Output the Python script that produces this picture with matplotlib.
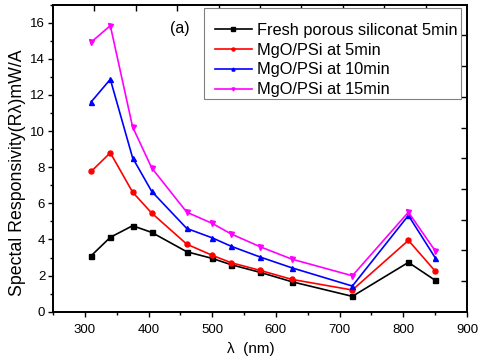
import matplotlib
matplotlib.use("Agg")
import matplotlib.pyplot as plt
from matplotlib.ticker import MultipleLocator, NullFormatter
from matplotlib.lines import Line2D
from matplotlib.patches import Rectangle
import numpy as np

plt.rcParams['font.family'] = ['Liberation Sans', 'DejaVu Sans']

wavelength = [310, 340, 375, 405, 460, 500, 530, 575, 625, 720, 808, 850]
fresh_5 = [3.10, 4.12, 4.76, 4.39, 3.32, 2.95, 2.60, 2.18, 1.66, 0.85, 2.73, 1.74]
mgo_5 = [7.77, 8.80, 6.62, 5.46, 3.74, 3.12, 2.71, 2.29, 1.79, 1.20, 3.95, 2.25]
mgo_10 = [11.62, 12.87, 8.52, 6.66, 4.61, 4.09, 3.62, 3.03, 2.43, 1.42, 5.33, 2.99]
mgo_15 = [14.93, 15.84, 10.23, 7.96, 5.51, 4.89, 4.30, 3.60, 2.91, 1.99, 5.51, 3.37]

labels = ["Fresh porous siliconat 5min", "MgO/PSi at 5min", "MgO/PSi at 10min", "MgO/PSi at 15min"]
colors = ["black", "red", "blue", "magenta"]
markers = ["s", "o", "^", "v"]
series = [fresh_5, mgo_5, mgo_10, mgo_15]

W, H = 480, 363
fig = plt.figure(figsize=(W/100, H/100), dpi=100)
ax = fig.add_axes([53/W, 1-311.7/H, (467-53)/W, (311.7-4.7)/H])

for ys, lab, c, m in zip(series, labels, colors, markers):
    ax.plot(wavelength, ys, color=c, marker=m, markersize=3.6, linewidth=1.2, label=lab)

ax.set_xlim(250, 900)
ax.set_ylim(0, 17)
ax.xaxis.set_major_locator(MultipleLocator(100))
ax.xaxis.set_minor_locator(MultipleLocator(50))
ax.yaxis.set_major_locator(MultipleLocator(2))
ax.yaxis.set_minor_locator(MultipleLocator(1))
ax.tick_params(which='major', direction='out', length=3.6, width=1.0, labelsize=9.5)
ax.tick_params(axis='x', which='major', pad=5)
ax.tick_params(axis='y', which='major', pad=2)
ax.tick_params(which='minor', direction='out', length=2.2, width=1.0)
for s in ax.spines.values():
    s.set_linewidth(1.1)

# independent top / right axes with inward ticks at tenths
axt = ax.twiny()
axt.set_xlim(0, 1)
axt.set_xticks(np.arange(1, 10) / 10)
axt.xaxis.set_major_formatter(NullFormatter())
axt.tick_params(direction='in', length=4, width=1.0)
axr = ax.twinx()
axr.set_ylim(0, 1)
axr.set_yticks(np.arange(1, 10) / 10)
axr.yaxis.set_major_formatter(NullFormatter())
axr.tick_params(direction='in', length=4, width=1.0)
for a in (axt, axr):
    for s in a.spines.values():
        s.set_linewidth(1.1)

ax.set_xlabel("λ  (nm)", fontsize=11)
ax.xaxis.set_label_coords((251-53)/414, (311.7-342)/307)
ax.set_ylabel("Spectal Responsivity(Rλ)mW/A", fontsize=12.8)
ax.yaxis.set_label_coords(-0.066, (311.7-173)/307)

fig.text(170/W, 1-29/H, "(a)", fontsize=11.5, va='center', ha='left')

# legend frame
rect = Rectangle((204/W, 1-99.3/H), (460.7-204)/W, (99.3-8.3)/H, transform=fig.transFigure,
                 facecolor='white', edgecolor='gray', linewidth=0.8, zorder=5)
axr.add_artist(rect)
rect.set_clip_on(False)

handles = [Line2D([0], [0], color=c, marker=m, markersize=2.2, linewidth=1.2)
           for c, m in zip(colors, markers)]
leg = axr.legend(handles, labels, loc='center left', bbox_to_anchor=(215/W, 1-60/H),
                 bbox_transform=fig.transFigure, fontsize=11.8, frameon=False,
                 handlelength=2.25, handletextpad=0.3, labelspacing=0.3,
                 borderpad=0, borderaxespad=0)
leg.set_zorder(6)

fig.savefig("out.png", dpi=100)
